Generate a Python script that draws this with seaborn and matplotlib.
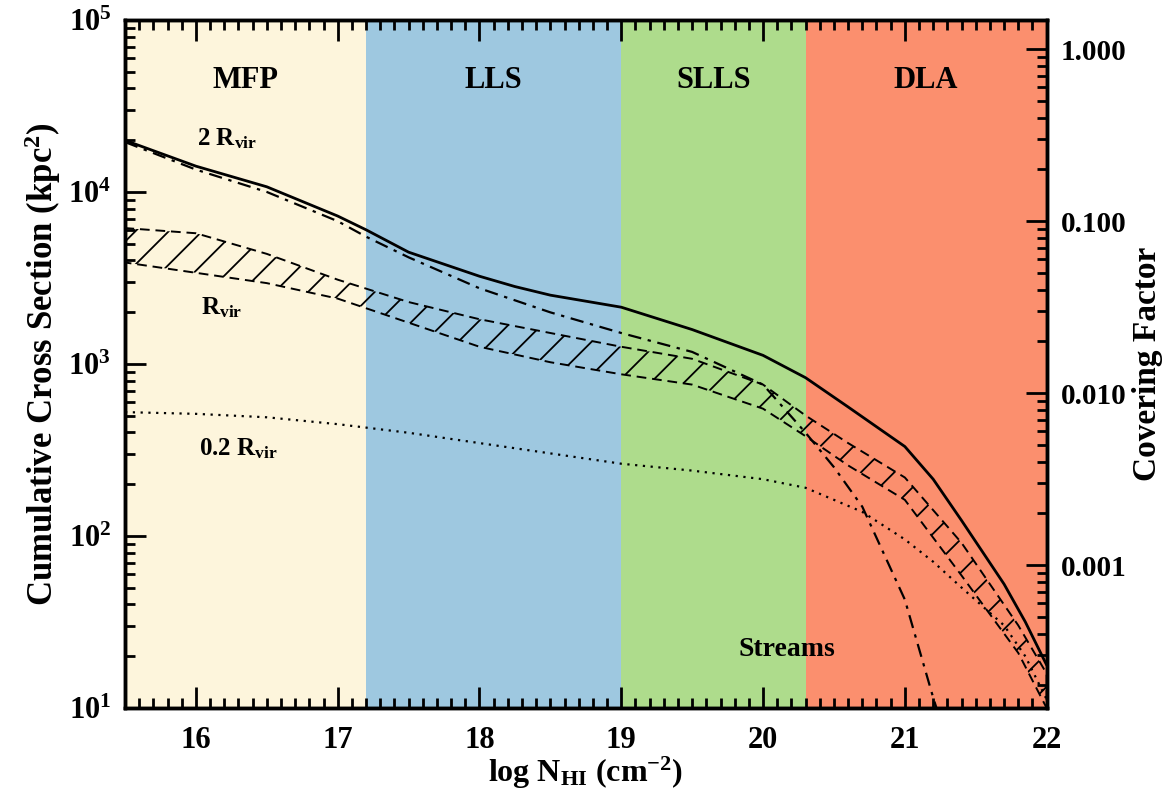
import numpy as np
import pandas as pd
import matplotlib
matplotlib.use('Agg')
import matplotlib.pyplot as plt
import matplotlib.ticker as mticker
import seaborn as sns

# Значения (log10 сечения в kpc^2)
x_2rvir = [15.5, 16.0, 16.5, 17.0, 17.2, 17.5, 17.75, 18.0, 18.25, 18.5, 19.0, 19.5, 20.0, 20.3, 20.6, 21.0, 21.2, 21.4, 21.7, 21.85, 22.0]
log_2rvir = [4.30, 4.15, 4.03, 3.86, 3.78, 3.65, 3.58, 3.51, 3.45, 3.40, 3.33, 3.20, 3.05, 2.92, 2.75, 2.52, 2.33, 2.09, 1.72, 1.50, 1.25]

x_streams = [15.5, 16.0, 16.5, 17.0, 17.2, 17.5, 18.0, 18.5, 19.0, 19.5, 20.0, 20.3, 20.5, 20.7, 21.0, 21.2, 21.3]
log_streams = [4.29, 4.13, 4.00, 3.83, 3.74, 3.62, 3.44, 3.30, 3.18, 3.07, 2.88, 2.60, 2.40, 2.17, 1.63, 1.06, 0.80]

x_rvir = [15.5, 16.0, 16.5, 17.0, 17.5, 18.0, 18.5, 19.0, 19.5, 20.0, 20.3, 20.6, 21.0, 21.4, 21.8, 22.0]
log_rvir_hi = [3.79, 3.76, 3.64, 3.49, 3.36, 3.26, 3.18, 3.10, 3.03, 2.88, 2.70, 2.54, 2.34, 1.96, 1.48, 1.20]
log_rvir_lo = [3.59, 3.53, 3.47, 3.38, 3.24, 3.10, 3.01, 2.94, 2.88, 2.74, 2.58, 2.41, 2.21, 1.77, 1.32, 1.00]

x_02rvir = [15.5, 16.0, 16.5, 17.0, 17.5, 18.0, 18.5, 19.0, 19.5, 20.0, 20.3, 20.7, 21.0, 21.2, 21.4, 21.7, 21.85, 22.0]
log_02rvir = [2.72, 2.71, 2.69, 2.65, 2.60, 2.54, 2.48, 2.42, 2.38, 2.33, 2.28, 2.14, 1.98, 1.85, 1.70, 1.48, 1.30, 1.05]

# Области по N_HI
band_names = ['MFP', 'LLS', 'SLLS', 'DLA']
band_edges = [15.5, 17.2, 19.0, 20.3, 22.0]
band_colors = ['#fdf5dc', '#9ec8e0', '#aedc8c', '#fb8f6e']

cf_ticks = [1.0, 0.1, 0.01, 0.001]
cf_labels = ['1.000', '0.100', '0.010', '0.001']
cf_norm = 10 ** 4.83   # сечение, соответствующее covering factor = 1

sns.set_theme(style='ticks')
plt.rcParams['font.family'] = ['Liberation Serif', 'DejaVu Serif']
plt.rcParams['font.weight'] = 'bold'
plt.rcParams['mathtext.fontset'] = 'custom'
plt.rcParams['mathtext.rm'] = 'Liberation Serif:bold'
plt.rcParams['mathtext.it'] = 'Liberation Serif:bold'
plt.rcParams['mathtext.bf'] = 'Liberation Serif:bold'
plt.rcParams['hatch.linewidth'] = 1.3
for key in ['text.color', 'axes.labelcolor', 'xtick.color', 'ytick.color', 'axes.edgecolor']:
    plt.rcParams[key] = 'black'

fig = plt.figure(figsize=(11.74, 7.89), dpi=100)
ax = fig.add_axes([0.1065, 0.1027, 0.785, 0.872])
ax.set_yscale('log')

for i, name in enumerate(band_names):
    ax.axvspan(band_edges[i], band_edges[i + 1], color=band_colors[i], lw=0, zorder=0)
    ax.text((band_edges[i] + band_edges[i + 1]) / 2, 10 ** 4.65, name,
            ha='center', va='center', fontsize=22, fontweight='bold')

# Полоса R_vir со штриховкой
ax.fill_between(x_rvir, 10 ** np.array(log_rvir_lo), 10 ** np.array(log_rvir_hi),
                facecolor='none', edgecolor='black', hatch='/', linestyle=(0, (5, 3)),
                linewidth=1.4, zorder=2)

sns.lineplot(x=x_2rvir, y=10 ** np.array(log_2rvir), ax=ax, color='black', lw=2.0, zorder=3)
sns.lineplot(x=x_streams, y=10 ** np.array(log_streams), ax=ax, color='black', lw=1.6,
             linestyle=(0, (6, 3, 1.5, 3)), zorder=3)
sns.lineplot(x=x_02rvir, y=10 ** np.array(log_02rvir), ax=ax, color='black', lw=1.6,
             linestyle=(0, (1, 2.5)), zorder=3)

ax.text(16.22, 10 ** 4.31, r'2 R$_{\rm vir}$', ha='center', va='center', fontsize=18)
ax.text(16.18, 10 ** 3.33, r'R$_{\rm vir}$', ha='center', va='center', fontsize=18)
ax.text(16.3, 10 ** 2.51, r'0.2 R$_{\rm vir}$', ha='center', va='center', fontsize=18)
ax.text(20.17, 10 ** 1.34, 'Streams', ha='center', va='center', fontsize=20)

ax.set_xlim(15.5, 22)
ax.set_ylim(10, 1e5)
ax.set_xticks([16, 17, 18, 19, 20, 21, 22])
ax.xaxis.set_major_formatter(mticker.FormatStrFormatter('%d'))
ax.xaxis.set_minor_locator(mticker.MultipleLocator(0.1))
ax.yaxis.set_major_locator(mticker.FixedLocator([1e1, 1e2, 1e3, 1e4, 1e5]))
ax.yaxis.set_major_formatter(mticker.FixedFormatter(['$10^{%d}$' % k for k in range(1, 6)]))
ax.yaxis.set_minor_locator(mticker.LogLocator(base=10, subs=np.arange(2, 10)))
ax.yaxis.set_minor_formatter(mticker.NullFormatter())
ax.tick_params(which='both', direction='in', top=True, right=False, labelsize=22, width=2)
ax.tick_params(which='major', length=15, pad=13)
ax.tick_params(which='minor', length=7)
ax.tick_params(axis='y', which='major', pad=10)

ax.set_xlabel(r'log N$_{\rm HI}$ (cm$^{-2}$)', fontsize=23, fontweight='bold', labelpad=0)
ax.set_ylabel(r'Cumulative Cross Section (kpc$^2$)', fontsize=25, fontweight='bold', labelpad=4)

ax2 = ax.twinx()
ax2.set_yscale('log')
ax2.set_ylim(10 / cf_norm, 1e5 / cf_norm)
ax2.yaxis.set_major_locator(mticker.FixedLocator(cf_ticks))
ax2.yaxis.set_major_formatter(mticker.FixedFormatter(cf_labels))
ax2.yaxis.set_minor_locator(mticker.LogLocator(base=10, subs=np.arange(2, 10)))
ax2.yaxis.set_minor_formatter(mticker.NullFormatter())
ax2.tick_params(which='both', direction='in', labelsize=21, width=2)
ax2.tick_params(which='major', length=15, pad=10)
ax2.tick_params(which='minor', length=7)
ax2.set_ylabel('Covering Factor', fontsize=24, fontweight='bold', labelpad=4)

for a in (ax, ax2):
    for s in a.spines.values():
        s.set_linewidth(2.5)
        s.set_color('black')
        s.set_visible(True)
    a.grid(False)

plt.savefig('out.png', dpi=100)
